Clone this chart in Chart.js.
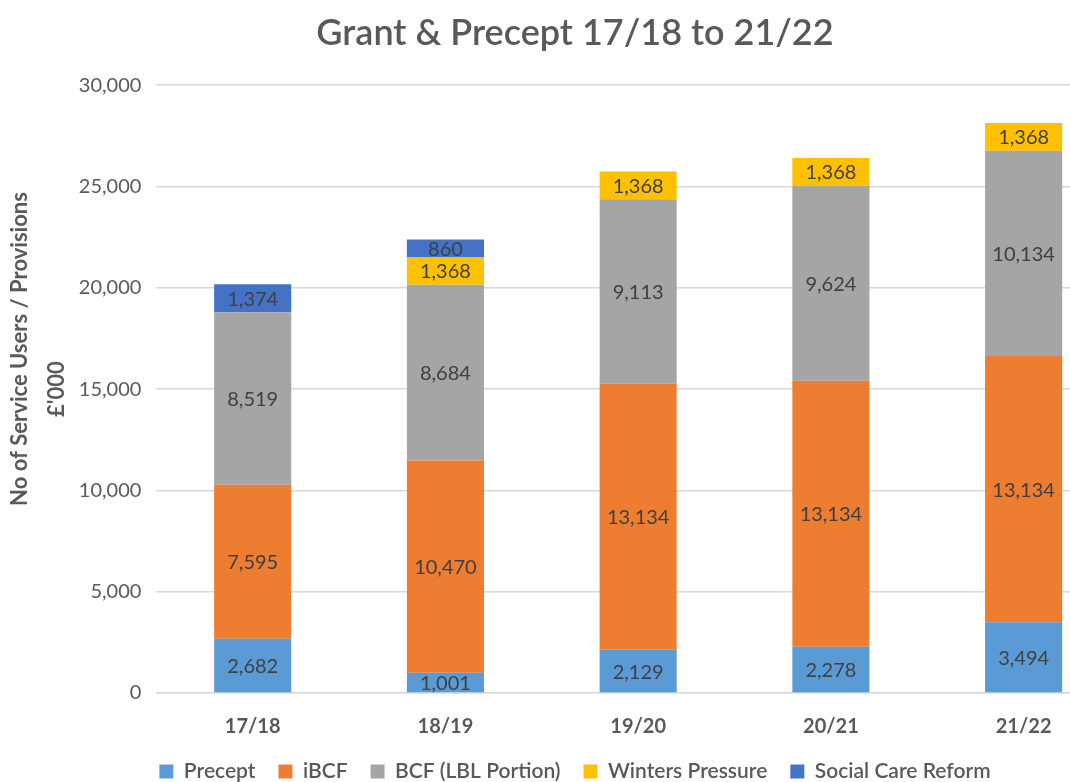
<html>
<head>
    <meta charset="UTF-8">
    <title>Grant & Precept 17/18 to 21/22</title>
    <style>
        body { margin: 0; overflow: hidden; background: #fff; }
        .wrap { width: 1150px; height: 782px; }
    </style>
</head>
<body>
    <div class="wrap"><canvas id="grantChart" width="1150" height="782"></canvas></div>
    <script src="https://cdn.jsdelivr.net/npm/chart.js"></script>
    <script>
        const years = ['17/18', '18/19', '19/20', '20/21', '21/22'];
        const precept = [2682, 1001, 2129, 2278, 3494];
        const ibcf = [7595, 10470, 13134, 13134, 13134];
        const bcfLbl = [8519, 8684, 9113, 9624, 10134];
        const wintersPressure = [null, 1368, 1368, 1368, 1368];
        const socialCareReform = [1374, 860, null, null, null];
        const yTicks = [0, 5000, 10000, 15000, 20000, 25000, 30000];

        const fontFamily = 'Lato, "Open Sans", sans-serif';
        const greyText = '#595959';

        // draw the value in the middle of each stacked segment
        const segmentLabels = {
            id: 'segmentLabels',
            afterDatasetsDraw(chart) {
                const ctx = chart.ctx;
                ctx.save();
                ctx.font = '20px ' + fontFamily;
                ctx.fillStyle = '#404040';
                ctx.textAlign = 'center';
                ctx.textBaseline = 'middle';
                chart.data.datasets.forEach((ds, i) => {
                    const meta = chart.getDatasetMeta(i);
                    meta.data.forEach((bar, j) => {
                        const v = ds.data[j];
                        if (v === null || v === undefined) return;
                        ctx.fillText(v.toLocaleString('en-GB'), bar.x, (bar.y + bar.base) / 2 + 1);
                    });
                });
                ctx.restore();
            }
        };

        const makeSet = (label, data, color) => ({
            label: label,
            data: data,
            backgroundColor: color,
            borderWidth: 0,
            barPercentage: 0.8,
            categoryPercentage: 0.5
        });

        const config = {
            type: 'bar',
            data: {
                labels: years,
                datasets: [
                    makeSet('Precept', precept, '#5B9BD5'),
                    makeSet('iBCF', ibcf, '#ED7D31'),
                    makeSet('BCF (LBL Portion)', bcfLbl, '#A5A5A5'),
                    makeSet('Winters Pressure', wintersPressure, '#FFC000'),
                    makeSet('Social Care Reform', socialCareReform, '#4472C4')
                ]
            },
            options: {
                responsive: false,
                animation: false,
                layout: { padding: { top: 12, left: 30, right: 30, bottom: -10 } },
                plugins: {
                    tooltip: { enabled: false },
                    title: {
                        display: true,
                        text: 'Grant & Precept 17/18 to 21/22',
                        color: greyText,
                        font: { family: fontFamily, size: 36, weight: '600' },
                        padding: { top: 0, bottom: 30 }
                    },
                    legend: {
                        position: 'bottom',
                        labels: {
                            color: greyText,
                            boxWidth: 14,
                            boxHeight: 14,
                            padding: 23,
                            font: { family: fontFamily, size: 21, weight: '600' }
                        }
                    }
                },
                scales: {
                    x: {
                        stacked: true,
                        grid: { display: false },
                        border: { color: '#D9D9D9', width: 1.5 },
                        afterFit: (scale) => { scale.height = 45; },
                        ticks: {
                            color: greyText,
                            padding: 14,
                            font: { family: fontFamily, size: 20, weight: 'bold' }
                        }
                    },
                    y: {
                        stacked: true,
                        min: 0,
                        max: 30000,
                        afterBuildTicks: (axis) => { axis.ticks = yTicks.map(v => ({ value: v })); },
                        grid: { color: '#D9D9D9', lineWidth: 1.5, drawTicks: false },
                        border: { display: false },
                        ticks: {
                            color: greyText,
                            padding: 15,
                            font: { family: fontFamily, size: 20 },
                            callback: (v) => v.toLocaleString('en-GB')
                        },
                        title: {
                            display: true,
                            // leading spaces lift the first line like the original
                            text: ['\u00A0'.repeat(15) + 'No of Service Users / Provisions', "£'000"],
                            color: greyText,
                            font: { family: fontFamily, size: 22, weight: 'bold', lineHeight: 1.7 },
                            padding: { top: -29, bottom: -12 }
                        }
                    }
                }
            },
            plugins: [segmentLabels]
        };

        new Chart(document.getElementById('grantChart').getContext('2d'), config);
    </script>
</body>
</html>
